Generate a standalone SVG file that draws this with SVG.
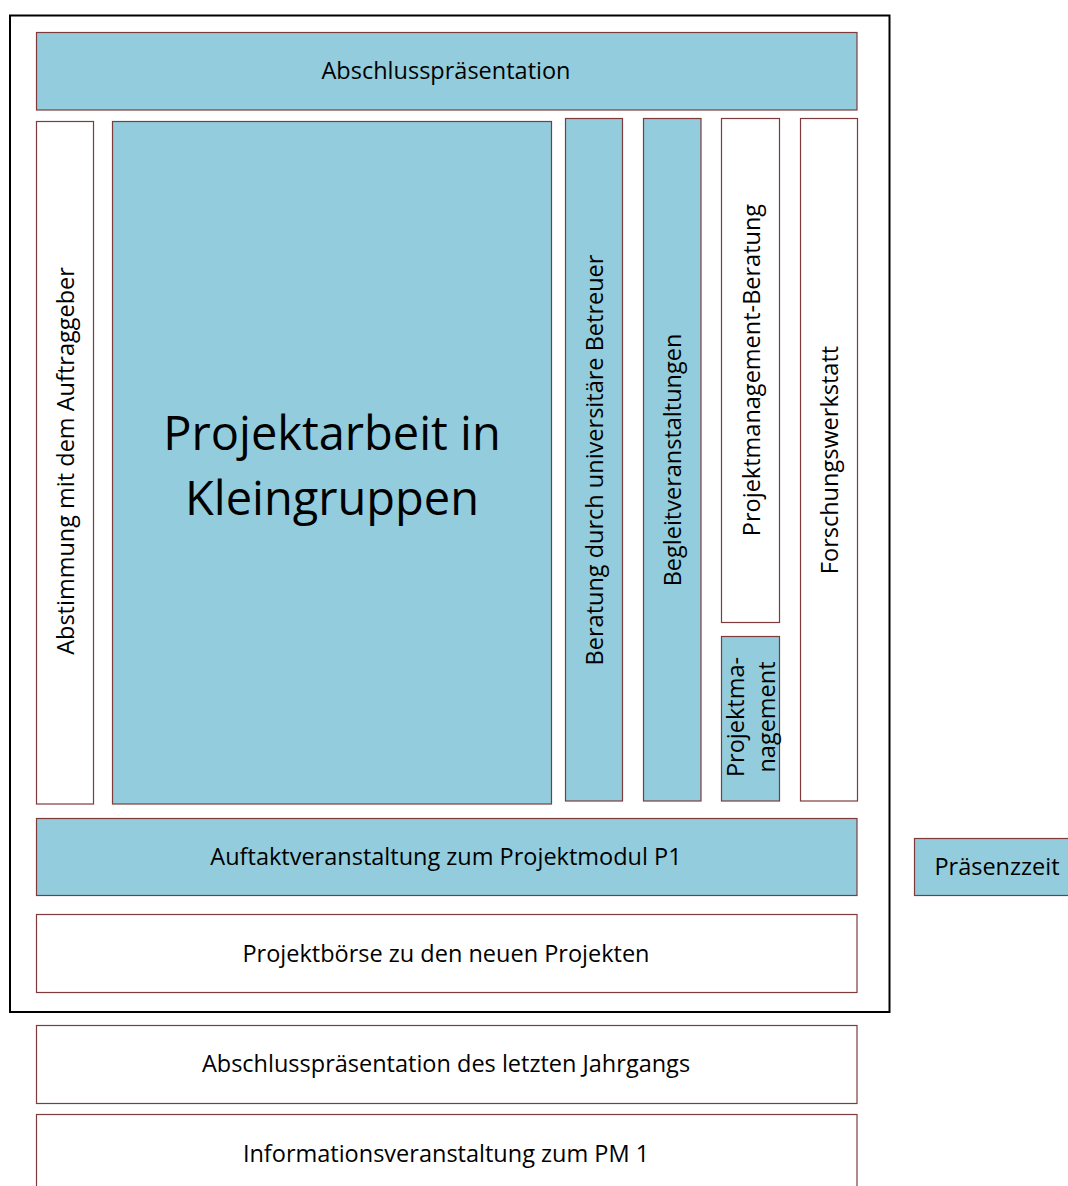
<svg xmlns="http://www.w3.org/2000/svg" width="1068" height="1186" viewBox="0 0 1068 1186">
<style>
.b{fill:#93CDDD;stroke:#7F3B3B;stroke-width:1.2}
.w{fill:#FFFFFF;stroke:#7F3B3B;stroke-width:1.2}
.t{font-family:"Open Sans","Noto Sans",sans-serif;font-size:23.5px;fill:#000;text-anchor:middle;dominant-baseline:central}
.big{font-size:47px}
</style>
<rect width="1068" height="1186" fill="#fff"/>
<rect id="frame" x="10" y="15.5" width="879.5" height="996.5" fill="none" stroke="#000" stroke-width="2"/>
<g id="abschluss"><rect class="b" x="36.5" y="32.5" width="820.5" height="77.5"/><text class="t" x="446" y="70">Abschlusspräsentation</text></g>
<g id="abstimmung"><rect class="w" x="36.5" y="121.5" width="57" height="682.5"/><text class="t" transform="translate(65,461) rotate(-90)">Abstimmung mit dem Auftraggeber</text></g>
<g id="projektarbeit"><rect class="b" x="112.5" y="121.5" width="439" height="682.5"/><text class="t big" x="332" y="432">Projektarbeit in</text><text class="t big" x="332" y="497">Kleingruppen</text></g>
<g id="beratung"><rect class="b" x="565.5" y="118.5" width="57" height="682.5"/><text class="t" transform="translate(594,460) rotate(-90)">Beratung durch universitäre Betreuer</text></g>
<g id="begleit"><rect class="b" x="643.5" y="118.5" width="57.5" height="682.5"/><text class="t" transform="translate(672,460) rotate(-90)">Begleitveranstaltungen</text></g>
<g id="pmberatung"><rect class="w" x="721.5" y="118.5" width="58" height="504"/><text class="t" transform="translate(751,370) rotate(-90)">Projektmanagement-Beratung</text></g>
<g id="pm"><rect class="b" x="721.5" y="636.5" width="58" height="164.5"/><text class="t" transform="translate(735,717) rotate(-90)">Projektma-</text><text class="t" transform="translate(766,717) rotate(-90)">nagement</text></g>
<g id="forschung"><rect class="w" x="800.5" y="118.5" width="57" height="682.5"/><text class="t" transform="translate(829,460) rotate(-90)">Forschungswerkstatt</text></g>
<g id="auftakt"><rect class="b" x="36.5" y="818.5" width="820.5" height="77"/><text class="t" x="446" y="856">Auftaktveranstaltung zum Projektmodul P1</text></g>
<g id="boerse"><rect class="w" x="36.5" y="914.5" width="820.5" height="78"/><text class="t" x="446" y="953">Projektbörse zu den neuen Projekten</text></g>
<g id="letzter"><rect class="w" x="36.5" y="1025.5" width="820.5" height="78"/><text class="t" x="446" y="1063">Abschlusspräsentation des letzten Jahrgangs</text></g>
<g id="info"><rect class="w" x="36.5" y="1114.5" width="820.5" height="90"/><text class="t" x="446" y="1153">Informationsveranstaltung zum PM 1</text></g>
<g id="praesenz"><rect class="b" x="914.5" y="838.5" width="170" height="57"/><text class="t" x="997" y="866">Präsenzzeit</text></g>
<g id="connectors"/>
</svg>
